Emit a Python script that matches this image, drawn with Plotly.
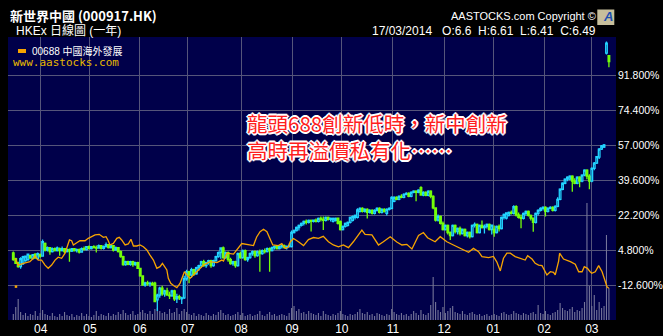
import plotly.graph_objects as go

# ---------------- data ----------------
month_pos = [11.2, 31.4, 51.9, 71.5, 93.3, 114.2, 134.6, 155.5, 176.5, 196.6, 217.5, 237.0]
month_labels = ["04", "05", "06", "07", "08", "09", "10", "11", "12", "01", "02", "03"]
pct_ticks = [-12.6, 4.8, 22.2, 39.6, 57.0, 74.4, 91.8]
pct_labels = ["-12.600%", "4.800%", "22.200%", "39.600%", "57.000%", "74.400%", "91.800%"]

# 000917.HK daily candles, % change vs. start (one value per trading day)
open_pct = [
    3.3, 0.5, -1.5, -3.5, -2.0, -0.5, 0.0, 2.0, 0.8, 2.8,
    0.5, 2.5, 1.8, 8.1, 4.8, 6.0, 4.0, 5.5, 4.5, 5.5,
    4.5, 5.5, 4.0, 5.0, 4.2, 5.5, 4.5, 5.0, 3.8, 5.5,
    5.0, 6.5, 5.5, 6.5, 6.0, 5.8, 7.0, 5.6, 6.5, 7.5,
    6.0, 7.0, 4.8, 6.0, 4.0, 1.5, -2.5, -1.0, -2.3, -1.0,
    -2.5, -1.5, -4.3, -8.1, -12.6, -11.5, -12.0, -11.8, -11.7, -20.0,
    -17.6, -14.2, -17.0, -15.5, -17.6, -18.0, -15.5, -19.5, -18.4, -19.5,
    -19.0, -9.5, -6.0, -7.7, -5.0, -7.0, -4.0, -3.0, -1.0, -3.0,
    -1.5, -0.5, -3.0, -0.5, 1.5, 3.5, 5.8, 1.0, 3.5, 0.0,
    -2.0, -1.0, -3.0, 3.0, 1.0, 4.5, 0.0, 1.0, 3.0, 4.0,
    2.0, 4.0, 3.0, 4.5, 4.0, 5.5, 4.5, 6.0, 6.5, 5.5,
    6.5, 7.0, 6.0, 6.5, 6.5, 13.5, 14.5, 16.0, 17.0, 18.0,
    19.0, 18.5, 19.5, 19.0, 19.7, 19.0, 20.5, 20.0, 19.5, 21.0,
    20.0, 19.0, 19.5, 20.6, 18.9, 15.0, 16.5, 17.0, 18.5, 19.5,
    21.0, 21.0, 24.0, 25.5, 24.0, 25.0, 23.5, 24.5, 23.0, 24.5,
    25.5, 23.5, 25.0, 23.0, 25.0, 25.5, 29.0, 31.0, 30.0, 31.5,
    31.0, 32.5, 33.0, 31.5, 33.5, 34.0, 33.5, 35.8, 32.1, 33.5,
    32.0, 34.0, 31.5, 25.7, 19.7, 21.5, 18.0, 15.0, 17.0, 13.5,
    12.0, 17.0, 14.0, 15.5, 13.0, 15.0, 12.0, 13.5, 11.5, 17.0,
    17.5, 13.5, 17.0, 16.0, 16.5, 17.5, 15.0, 15.0, 13.5, 16.5,
    15.5, 21.0, 20.6, 22.0, 23.5, 23.0, 26.3, 22.2, 21.0, 20.5,
    23.0, 24.0, 22.0, 20.6, 18.5, 23.0, 24.5, 25.5, 26.0, 24.0,
    25.5, 26.0, 24.5, 26.5, 30.0, 35.0, 38.0, 40.0, 40.0, 41.5,
    39.0, 38.0, 41.0, 39.0, 42.0, 44.5, 41.5, 39.0, 45.4, 48.0,
    51.0, 55.0, 56.0, 102.7, 101.4,
]
high_pct = [
    4.0, 1.0, -1.0, 1.2, 2.0, 2.0, 3.0, 2.5, 2.8, 3.2,
    3.5, 3.0, 10.0, 8.5, 6.5, 6.2, 6.0, 6.0, 6.5, 6.0,
    6.5, 5.8, 5.5, 5.5, 5.8, 5.8, 5.5, 5.5, 6.0, 6.5,
    6.8, 7.0, 6.8, 7.2, 7.0, 7.5, 7.2, 7.0, 8.5, 7.8,
    7.5, 7.2, 6.5, 6.2, 4.5, 2.0, -0.5, -0.5, -0.5, -0.5,
    -1.0, -1.0, -4.0, -8.0, -11.0, -10.5, -11.0, -11.0, -11.0, -17.0,
    -13.5, -13.0, -15.0, -14.0, -16.0, -15.0, -15.0, -17.0, -17.5, -18.5,
    -8.0, -5.0, -5.5, -4.0, -4.5, -3.5, -2.5, -0.5, 0.0, -1.0,
    0.0, 0.0, 0.0, 2.0, 4.0, 6.0, 6.5, 4.0, 4.0, 1.0,
    -0.5, -0.5, 3.5, 4.0, 5.0, 5.0, 1.5, 3.5, 4.5, 4.5,
    4.5, 5.0, 5.0, 5.5, 6.0, 6.0, 6.5, 7.0, 7.0, 7.0,
    7.5, 7.5, 7.0, 8.0, 14.5, 15.0, 16.5, 17.5, 18.5, 19.5,
    20.0, 20.0, 20.0, 20.0, 20.5, 21.0, 21.5, 21.5, 21.5, 21.5,
    21.0, 21.0, 21.0, 21.0, 19.5, 17.0, 18.5, 19.0, 21.5, 22.0,
    22.5, 25.5, 26.0, 26.0, 25.5, 25.5, 25.0, 25.0, 25.0, 26.0,
    26.0, 25.5, 25.5, 25.5, 26.0, 31.5, 31.5, 31.5, 32.0, 32.5,
    33.0, 33.5, 33.5, 34.0, 34.5, 34.5, 35.0, 36.5, 34.0, 34.0,
    34.5, 34.5, 32.0, 26.0, 22.5, 22.0, 19.0, 17.5, 17.5, 14.0,
    17.5, 17.5, 16.0, 16.5, 15.5, 15.5, 14.0, 14.0, 17.5, 18.5,
    18.0, 17.5, 19.5, 17.5, 18.0, 18.0, 17.5, 17.0, 17.0, 17.5,
    21.5, 23.0, 23.5, 24.0, 24.5, 27.0, 27.0, 23.5, 22.5, 23.5,
    24.5, 24.5, 22.5, 21.0, 23.5, 25.0, 26.0, 26.5, 26.5, 26.0,
    26.5, 26.5, 27.0, 31.0, 35.5, 38.5, 40.5, 41.5, 42.0, 42.0,
    40.5, 41.5, 41.5, 42.5, 45.0, 45.0, 42.5, 46.0, 48.5, 51.5,
    55.5, 57.0, 57.5, 108.5, 101.7,
]
low_pct = [
    -0.5, -2.2, -4.0, -4.5, -2.7, -1.0, -0.5, 0.5, 0.0, 0.5,
    0.0, 1.0, 1.5, 4.0, 4.0, 2.5, 3.5, 4.0, 4.0, 2.0,
    4.0, 3.0, 3.5, -1.0, 3.8, 4.0, 3.5, 3.0, 3.5, 4.5,
    4.5, 5.0, 5.0, 5.5, 3.5, 5.5, 5.0, 5.0, 6.0, 5.5,
    5.5, 4.0, 4.5, 3.5, 1.0, -3.0, -3.0, -2.8, -3.0, -3.5,
    -3.0, -4.5, -8.5, -12.8, -13.5, -13.0, -13.5, -13.0, -21.0, -25.5,
    -19.0, -18.0, -18.5, -18.0, -19.5, -18.5, -20.5, -21.5, -20.0, -22.0,
    -19.5, -10.5, -11.7, -9.0, -8.0, -7.5, -5.5, -4.0, -3.5, -4.0,
    -2.5, -4.0, -3.5, -1.0, 1.0, 0.5, 0.5, 0.5, -1.0, -2.5,
    -3.0, -4.0, -3.5, 0.5, 0.5, -0.5, -1.0, 0.5, 2.0, 1.0,
    1.5, -6.0, 2.5, 3.0, 3.5, -6.0, 4.0, 5.0, 5.0, 5.0,
    5.5, 5.5, 5.0, 6.0, 6.0, 13.0, 14.0, 14.5, 16.5, 17.0,
    17.5, 18.0, 14.0, 18.5, 18.5, 18.5, 19.0, 14.7, 19.0, 19.5,
    19.0, 18.5, 19.0, 17.5, 14.5, 14.5, 16.0, 16.5, 18.0, 19.0,
    20.0, 20.5, 23.5, 23.5, 23.5, 20.5, 23.0, 22.5, 22.5, 24.0,
    23.0, 23.0, 23.5, 22.0, 24.5, 25.0, 28.5, 29.5, 29.5, 30.5,
    30.5, 32.0, 31.0, 31.0, 33.0, 29.0, 33.0, 32.0, 31.5, 31.5,
    31.5, 30.5, 25.0, 19.0, 19.0, 17.5, 14.5, 14.5, 12.5, 9.8,
    11.5, 13.0, 12.5, 12.0, 12.5, 11.5, 11.0, 10.5, 11.0, 16.0,
    13.0, 13.0, 15.5, 13.0, 15.5, 14.5, 12.5, 11.4, 13.0, 14.0,
    15.0, 20.0, 20.0, 21.5, 22.5, 22.5, 21.5, 20.5, 15.6, 20.0,
    22.0, 21.5, 19.5, 13.9, 18.0, 22.0, 24.0, 24.5, 21.5, 23.5,
    25.0, 24.0, 24.0, 26.0, 29.5, 34.5, 37.5, 39.0, 39.5, 33.8,
    37.5, 37.5, 36.0, 38.5, 41.5, 40.0, 35.0, 38.5, 44.5, 47.5,
    50.0, 54.5, 55.5, 102.0, 95.6,
]
close_pct = [
    0.0, -1.8, -3.5, 0.5, 1.5, 1.8, 2.8, 0.8, 2.5, 0.8,
    3.0, 1.8, 9.0, 4.8, 6.0, 4.0, 5.5, 4.5, 5.8, 4.5,
    5.5, 4.0, 5.0, 4.2, 5.5, 4.5, 5.0, 3.8, 5.5, 5.0,
    6.5, 5.5, 6.5, 6.0, 5.8, 7.0, 5.6, 6.5, 7.5, 6.0,
    7.0, 4.8, 6.0, 4.0, 1.5, -2.5, -1.0, -2.3, -1.0, -2.5,
    -1.5, -4.3, -8.1, -12.6, -11.5, -12.0, -11.8, -12.5, -20.9, -17.6,
    -14.2, -17.0, -15.5, -17.6, -18.0, -15.5, -19.5, -18.4, -19.0, -19.0,
    -9.5, -6.0, -7.7, -5.0, -7.0, -4.0, -3.0, -1.0, -3.0, -1.5,
    -0.5, -3.0, -0.5, 1.5, 3.5, 5.8, 1.0, 3.5, 0.0, -2.0,
    -1.0, -3.0, 3.0, 1.0, 4.5, 0.0, 1.0, 3.0, 4.0, 2.0,
    4.0, 3.0, 4.5, 4.0, 5.5, 4.5, 6.0, 6.5, 5.5, 6.5,
    7.0, 6.0, 6.5, 7.0, 13.5, 14.5, 16.0, 17.0, 18.0, 19.0,
    18.5, 19.5, 19.0, 19.7, 19.0, 20.5, 20.0, 19.5, 21.0, 20.0,
    20.5, 20.5, 20.5, 18.0, 15.0, 16.5, 18.0, 18.5, 21.0, 21.4,
    22.0, 24.7, 25.5, 24.0, 25.0, 23.5, 24.5, 23.0, 24.5, 25.5,
    23.5, 25.0, 24.0, 25.0, 25.5, 31.0, 31.0, 30.0, 31.5, 31.0,
    32.5, 33.0, 31.5, 33.5, 34.0, 33.5, 34.5, 32.1, 33.5, 32.0,
    34.0, 31.5, 25.7, 19.7, 21.5, 18.0, 15.0, 17.0, 13.5, 12.0,
    17.0, 14.0, 15.5, 13.0, 15.0, 12.0, 13.5, 11.5, 17.0, 17.5,
    13.5, 17.0, 16.0, 16.5, 17.5, 15.0, 17.2, 13.5, 16.5, 15.5,
    21.0, 22.5, 23.2, 23.5, 23.0, 26.3, 22.2, 21.0, 20.5, 23.0,
    24.0, 22.0, 20.6, 18.5, 23.0, 24.5, 25.5, 26.0, 24.0, 25.5,
    26.0, 24.5, 26.5, 30.0, 35.0, 38.0, 40.0, 41.0, 41.5, 39.0,
    38.0, 41.0, 39.0, 42.0, 44.5, 41.5, 39.0, 45.4, 48.0, 51.2,
    55.0, 56.5, 57.0, 107.7, 98.5,
]
# daily volume (million shares)
volume_m = [
    3.0, 6.5, 10.5, 4.0, 2.5, 3.5, 2.0, 3.0, 2.5, 4.5,
    2.0, 3.5, 5.0, 3.0, 2.5, 2.0, 3.5, 2.0, 1.5, 3.0,
    2.0, 4.0, 2.5, 2.0, 3.0, 1.5, 2.5, 2.0, 3.5, 2.0,
    3.0, 2.0, 1.5, 2.5, 4.5, 2.0, 3.0, 2.5, 2.0, 3.5,
    2.0, 3.0, 2.5, 4.0, 3.0, 5.0, 3.5, 2.5, 3.0, 4.5,
    2.5, 3.0, 4.0, 5.0, 3.5, 3.0, 4.5, 3.0, 5.5, 6.0,
    4.5, 3.5, 4.0, 3.0, 5.5, 3.5, 4.0, 6.0, 3.0, 4.5,
    5.5, 4.0, 3.0, 2.5, 3.5, 2.0, 3.0, 2.5, 2.0, 3.5,
    2.5, 2.0, 3.0, 2.5, 4.0, 5.0, 3.5, 2.5, 3.0, 2.0,
    2.5, 3.0, 4.0, 2.5, 3.5, 2.0, 2.5, 3.0, 2.0, 2.5,
    3.0, 4.5, 2.5, 2.0, 3.0, 4.0, 2.5, 3.0, 2.0, 2.5,
    3.0, 2.5, 2.0, 3.5, 6.0, 7.0, 4.5, 5.5, 3.5, 4.0,
    3.0, 4.5, 3.5, 3.0, 2.5, 3.5, 2.0, 4.5, 3.0, 2.5,
    2.0, 3.0, 2.5, 3.5, 4.5, 3.0, 2.5, 2.0, 3.0, 2.5,
    3.0, 4.0, 5.5, 3.5, 3.0, 4.0, 2.5, 3.0, 2.0, 3.5,
    3.0, 2.5, 2.0, 3.0, 2.5, 5.5, 4.0, 3.0, 2.5, 3.5,
    2.5, 3.0, 2.0, 3.0, 4.5, 3.5, 2.5, 5.0, 3.0, 2.5,
    3.5, 7.5, 21.5, 9.0, 5.0, 4.0, 6.5, 3.5, 4.5, 6.0,
    7.0, 4.0, 3.5, 3.0, 4.5, 3.0, 2.5, 3.5, 4.0, 3.0,
    2.5, 3.0, 2.0, 2.5, 3.0, 2.0, 2.5, 3.0, 2.5, 2.0,
    3.5, 4.0, 3.0, 2.5, 3.0, 4.5, 3.5, 3.0, 2.5, 3.5,
    3.0, 2.5, 3.5, 4.0, 3.0, 7.5, 3.5, 3.0, 4.5, 3.0,
    2.5, 3.5, 4.0, 5.0, 8.5, 6.0, 5.0, 4.5, 5.5, 6.5,
    4.0, 5.0, 4.5, 6.0, 9.0, 58.5, 17.0, 7.0, 12.5, 5.0,
    9.0, 6.0, 7.0, 42.5, 16.0,
]

# 00688 comparison line (% change), read at day positions
peer_day = [
    0.7, 2.0, 4.1, 6.8, 8.2, 8.9, 10.2, 11.6, 13.0, 14.3, 15.7, 17.1, 18.4, 19.8,
    21.2, 21.9, 23.0, 23.9, 24.6, 26.0, 27.3, 29.4, 30.7, 33.5, 35.2, 36.9, 38.0,
    38.9, 39.6, 41.0, 42.4, 43.4, 44.4, 45.8, 47.1, 48.2, 49.2, 50.6, 51.9, 53.3,
    54.7, 56.0, 57.4, 58.8, 60.1, 61.1, 62.2, 62.9, 63.5, 64.5, 65.9, 67.0, 68.3,
    70.1, 71.1, 72.4, 73.8, 75.2, 77.9, 80.6, 83.4, 85.4, 86.1, 87.5, 90.2, 93.6,
    96.3, 98.4, 99.7, 101.1, 102.5, 103.9, 105.2, 106.3, 108.6, 110.0, 111.4,
    112.7, 113.4, 114.8, 116.8, 118.9, 120.9, 123.0, 125.0, 127.0, 129.1, 131.1,
    133.2, 135.2, 137.3, 139.3, 142.8, 144.1, 146.9, 149.6, 151.6, 154.4, 157.1,
    159.2, 161.2, 163.3, 166.0, 168.0, 169.7, 172.8, 174.9, 177.6, 180.3, 183.1,
    186.5, 188.5, 190.6, 192.0, 194.7, 196.7, 198.1, 199.5, 200.8, 202.2, 203.6,
    205.6, 208.4, 209.7, 210.7, 212.5, 213.8, 215.2, 216.6, 217.9, 218.6, 220.0,
    221.3, 222.0, 223.4, 223.8, 225.4, 228.2, 230.2, 231.6, 233.0, 233.9, 235.2,
    236.3, 237.0, 238.4, 239.8, 241.2, 242.1, 243.2, 243.9,
]
peer_pct = [
    0.7, -2.7, -1.8, -1.0, 0.7, 1.8, -0.2, -0.2, -2.7, -4.3, -2.7, -0.2, 1.2, 0.7,
    3.2, 5.6, 9.8, 9.4, 7.3, 8.4, 9.4, 9.4, 10.6, 12.3, 12.6, 11.1, 11.4,
    9.4, 7.3, 8.1, 10.6, 11.1, 9.8, 7.3, 7.8, 10.1, 6.8, 6.8, 7.3, 6.4,
    4.8, 2.3, -0.2, -4.3, -3.5, -1.8, -3.5, -5.1, -9.3, -11.8, -13.1, -13.9, -11.8,
    -6.0, -7.6, -9.3, -7.6, -6.0, -2.7, -1.0, -1.5, -0.2, -0.7, 3.2, 2.8, 8.0,
    7.3, 7.0, 11.3, 13.9, 15.1, 13.9, 10.3, 7.3, 7.0, 8.0, 5.6,
    6.3, 8.8, 10.5, 8.9, 7.0, 10.0, 11.0, 10.6, 11.6, 8.9, 7.3,
    6.4, 7.3, 6.0, 8.9, 14.7, 12.6, 12.3, 7.3, 8.9, 11.4, 8.8,
    7.3, 7.6, 5.3, 12.0, 13.5, 10.9, 8.9, 11.4, 8.9, 7.3, 5.6,
    3.7, 5.6, 4.0, 1.5, 1.0, 1.6, -1.2, -5.6, 0.7, 3.2, 3.2,
    1.5, 0.3, -0.2, 2.0, 0.3, -1.8, -2.7, -3.0, -6.0, -7.6, -6.0,
    -6.3, -7.6, -0.7, 3.2, 0.3, -1.0, -2.3, -6.0, -6.0, -3.5, -4.3,
    -6.0, -6.8, -6.0, -3.0, -6.0, -9.3, -13.4, -14.2,
]
peer_stray_day = [1.1]
peer_stray_pct = [-13.4]

# ---------------- styling / layout ----------------
W, H = 663, 336
PL, PR, PT, PB = 8, 615.7, 37, 320
NAVY = "#00004a"
GRID = "#55557a"
CYAN = "#22d4ff"
GREEN = "#74ff08"
ORANGE = "#f7a400"
VOLC = "#75759a"
LAT = "Liberation Sans, Arial, Noto Sans CJK TC, sans-serif"
CJK = "Noto Sans CJK TC, Liberation Sans, sans-serif"


def fx(x):
    return (x - PL) / (PR - PL)


def fy(y):
    return (PB - y) / (PB - PT)


days = list(range(len(close_pct)))

fig = go.Figure()
fig.add_trace(go.Bar(
    x=days, y=volume_m, width=0.45, marker=dict(color=VOLC, line=dict(width=0)),
    xaxis="x", yaxis="y", hoverinfo="skip", showlegend=False,
))
fig.add_trace(go.Scatter(
    x=peer_day, y=peer_pct, mode="lines", line=dict(color=ORANGE, width=1.3),
    xaxis="x", yaxis="y2", hoverinfo="skip", showlegend=False,
))
fig.add_trace(go.Scatter(
    x=peer_stray_day, y=peer_stray_pct, mode="markers",
    marker=dict(color=ORANGE, size=2.5, symbol="square"),
    xaxis="x", yaxis="y2", hoverinfo="skip", showlegend=False,
))
fig.add_trace(go.Candlestick(
    x=days, open=open_pct, high=high_pct, low=low_pct, close=close_pct,
    increasing=dict(line=dict(color=CYAN, width=1.3), fillcolor=NAVY),
    decreasing=dict(line=dict(color=GREEN, width=1.3), fillcolor=GREEN),
    whiskerwidth=0, xaxis="x", yaxis="y2", hoverinfo="skip", showlegend=False,
))

ann = []


def text(x, y, s, size, color="#ffffff", family=LAT, **kw):
    d = dict(x=fx(x), y=fy(y), xref="paper", yref="paper", text=s, showarrow=False,
             xanchor="left", yanchor="middle", font=dict(size=size, color=color, family=family))
    d.update(kw)
    ann.append(d)


text(8, 16, "<b>新世界中國 (000917.HK)</b>", 13, family=CJK)
text(14, 30, "HKEx 日線圖 (一年)", 12, family=LAT)
text(30, 50.5, "00688 中國海外發展", 10, family=LAT)
text(11, 62.5, "www.aastocks.com", 11, color="#e8b800", family="DejaVu Sans Mono, monospace")
text(449, 16, "AASTOCKS.com Copyright ©", 11)
text(370, 31, "17/03/2014\u00a0\u00a0\u00a0O:6.6\u00a0\u00a0H:6.61\u00a0\u00a0L:6.41\u00a0\u00a0C:6.49", 12)
text(600.5, 17, "<b><i>A</i></b>", 13, color="#1d4fb0")

outline = ("-1px -1px 0 #fff, 1px -1px 0 #fff, -1px 1px 0 #fff, 1px 1px 0 #fff, "
           "2px 0 0 #fff, -2px 0 0 #fff, 0 2px 0 #fff, 0 -2px 0 #fff")
ann.append(dict(x=fx(245), y=fy(136), xref="paper", yref="paper",
                text="龍頭688創新低時，新中創新<br>高時再溢價私有化……", showarrow=False,
                xanchor="left", yanchor="middle", align="left",
                font=dict(size=20.5, color="#ff1e1e", family=CJK, shadow=outline)))

shapes = [
    dict(type="rect", xref="paper", yref="paper", x0=fx(18), x1=fx(26), y0=fy(49), y1=fy(53),
         fillcolor=ORANGE, line=dict(width=0), layer="above"),
    dict(type="rect", xref="paper", yref="paper", x0=fx(597), x1=fx(614), y0=fy(9.5), y1=fy(25),
         fillcolor="#c7bf9c", line=dict(width=0), layer="above"),
]

fig.update_layout(
    width=W, height=H, autosize=False,
    margin=dict(l=PL, r=W - PR, t=PT, b=H - PB, pad=0),
    paper_bgcolor="#000000", plot_bgcolor=NAVY,
    showlegend=False, hovermode=False, boxgap=0.05,
    xaxis=dict(range=[-2.17, 246.9], tickmode="array", tickvals=month_pos, ticktext=month_labels,
               showgrid=True, gridcolor=GRID, gridwidth=1, zeroline=False, showline=False,
               ticks="", tickfont=dict(color="#ffffff", size=12, family=LAT),
               rangeslider=dict(visible=False), automargin=False, fixedrange=True),
    yaxis=dict(range=[0, 141.5], visible=False, showgrid=False, fixedrange=True),
    yaxis2=dict(range=[-30.0, 110.7], overlaying="y", side="right", tickmode="array",
                tickvals=pct_ticks, ticktext=pct_labels, showgrid=True, gridcolor=GRID,
                gridwidth=1, zeroline=False, showline=False, ticks="", ticklabelstandoff=1,
                tickfont=dict(color="#ffffff", size=10.5, family=LAT), automargin=False,
                fixedrange=True),
    annotations=ann, shapes=shapes,
)

fig.write_html("out.html", config={"displayModeBar": False, "staticPlot": True})
